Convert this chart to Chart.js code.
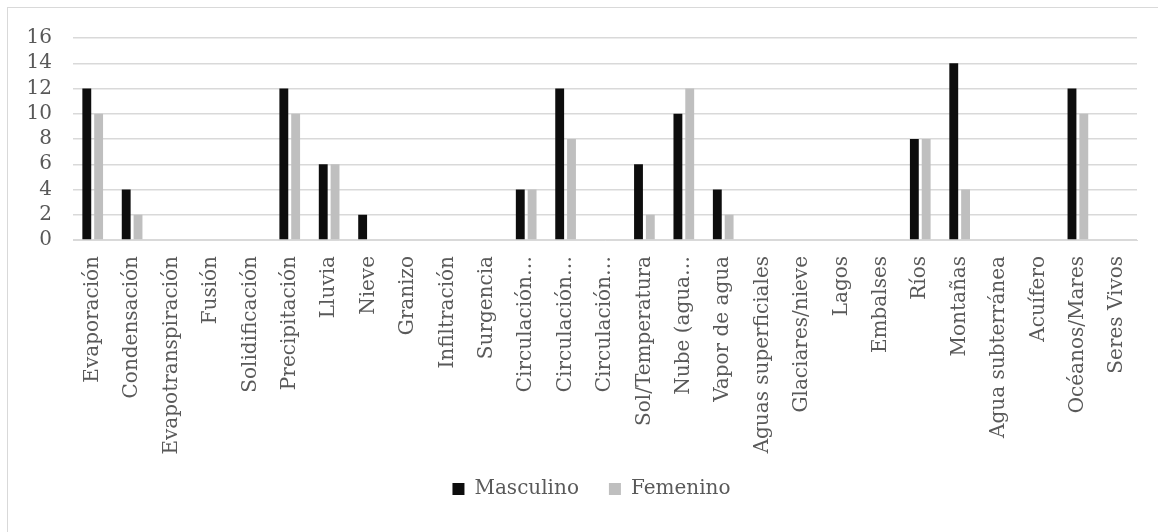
<!DOCTYPE html>
<html>
<head>
<meta charset="utf-8">
<script src="https://cdn.jsdelivr.net/npm/chart.js@4/dist/chart.umd.min.js"></script>
<style>
  html, body { margin: 0; padding: 0; background: #ffffff; }
  #wrap { width: 1158px; height: 532px; position: relative; }
</style>
</head>
<body>
<div id="wrap"><canvas id="c"></canvas></div>
<script>
// Categorías del ciclo del agua mencionadas
const categories = [
  'Evaporación', 'Condensación', 'Evapotranspiración', 'Fusión', 'Solidificación',
  'Precipitación', 'Lluvia', 'Nieve', 'Granizo', 'Infiltración', 'Surgencia',
  'Circulación…', 'Circulación…', 'Circulación…', 'Sol/Temperatura', 'Nube (agua…',
  'Vapor de agua', 'Aguas superficiales', 'Glaciares/nieve', 'Lagos', 'Embalses',
  'Ríos', 'Montañas', 'Agua subterránea', 'Acuífero', 'Océanos/Mares', 'Seres Vivos'
];

const masculino = [12, 4, 0, 0, 0, 12, 6, 2, 0, 0, 0, 4, 12, 0, 6, 10, 4, 0, 0, 0, 0, 8, 14, 0, 0, 12, 0];
const femenino  = [10, 2, 0, 0, 0, 10, 6, 0, 0, 0, 0, 4, 8, 0, 2, 12, 2, 0, 0, 0, 0, 8, 4, 0, 0, 10, 0];

const yTicks = [0, 2, 4, 6, 8, 10, 12, 14, 16];

const FONT = 'DejaVu Serif';
const TEXT = '#595959';
const GRID = '#d9d9d9';

// Fondo blanco y marco gris del gráfico
const framePlugin = {
  id: 'frame',
  afterLayout(chart) {
    // coloca la leyenda un poco más arriba y centrada bajo el área de trazado
    const lg = chart.legend;
    if (lg) {
      lg.top -= 11; lg.bottom -= 11;
      lg.left += 18; lg.right += 18;
    }
  },
  beforeDraw(chart) {
    const ctx = chart.ctx;
    ctx.save();
    ctx.fillStyle = '#ffffff';
    ctx.fillRect(0, 0, chart.width, chart.height);
    ctx.strokeStyle = GRID;
    ctx.lineWidth = 1;
    ctx.strokeRect(7.5, 7.5, 1200, 600);
    ctx.restore();
  }
};

new Chart(document.getElementById('c'), {
  type: 'bar',
  data: {
    labels: categories,
    datasets: [
      { label: 'Masculino', data: masculino, backgroundColor: '#0d0d0d', borderWidth: 0 },
      { label: 'Femenino', data: femenino, backgroundColor: '#bfbfbf', borderWidth: 0 }
    ]
  },
  options: {
    responsive: true,
    maintainAspectRatio: false,
    animation: false,
    categoryPercentage: 0.6,
    barPercentage: 0.75,
    layout: { padding: { left: 10, right: 21, top: 38, bottom: 12 } },
    plugins: {
      legend: {
        position: 'bottom',
        labels: {
          color: TEXT,
          font: { family: FONT, size: 20 },
          boxWidth: 12,
          boxHeight: 12,
          padding: 30
        }
      },
      tooltip: { enabled: false }
    },
    scales: {
      x: {
        grid: { display: false, drawTicks: false },
        border: { display: true, color: GRID, width: 1 },
        ticks: {
          autoSkip: false,
          minRotation: 90,
          maxRotation: 90,
          padding: 16,
          color: TEXT,
          font: { family: FONT, size: 20 }
        },
        afterFit(scale) { scale.height = 220; }
      },
      y: {
        min: 0,
        max: 16,
        afterBuildTicks(scale) { scale.ticks = yTicks.map(v => ({ value: v })); },
        grid: { color: GRID, lineWidth: 1.5, drawTicks: false },
        border: { display: false },
        ticks: {
          autoSkip: false,
          padding: 21,
          color: TEXT,
          font: { family: FONT, size: 20 }
        },
        afterFit(scale) { scale.width = 63; }
      }
    }
  },
  plugins: [framePlugin]
});
</script>
</body>
</html>
